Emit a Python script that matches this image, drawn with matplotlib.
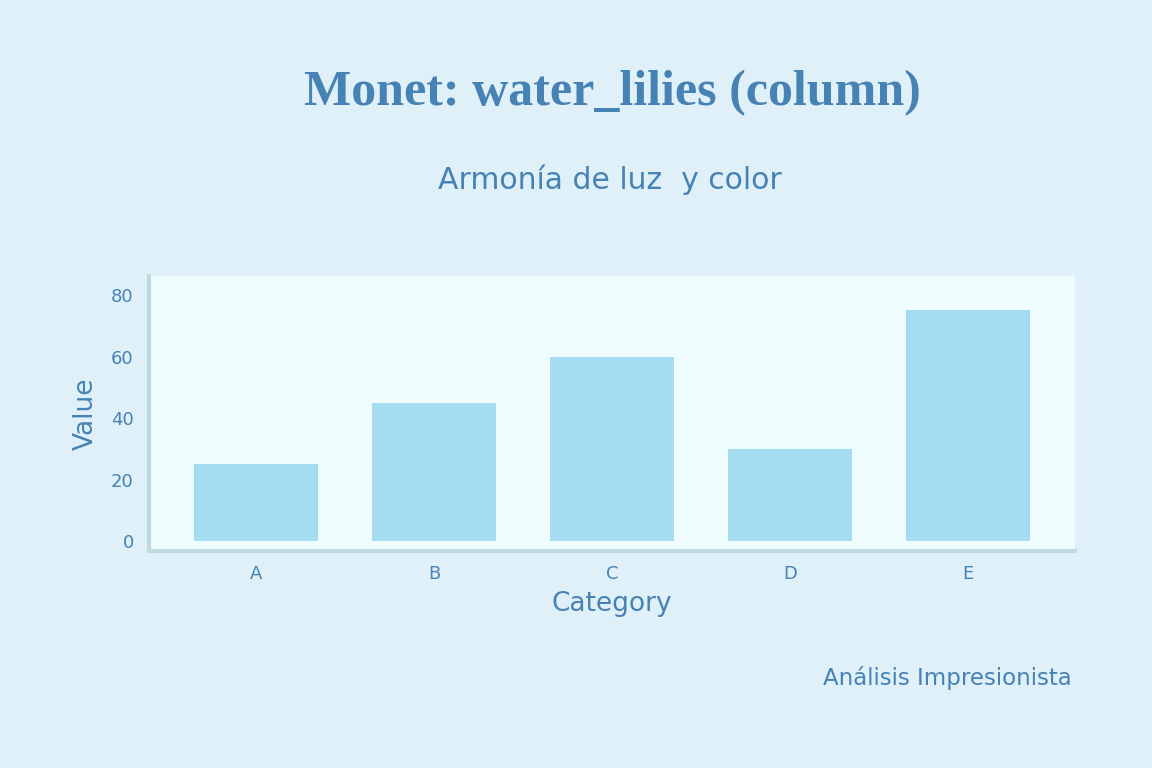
import matplotlib
matplotlib.use('Agg')
from matplotlib import pyplot as plt

# chart data
categories = ['A', 'B', 'C', 'D', 'E']
values = [25, 45, 60, 30, 75]

text_color = '#4682b4'
bar_color = '#a6dcf0'
spine_color = '#c0d8e0'

plt.rcParams['font.family'] = ['DejaVu Sans']

fig = plt.figure(figsize=(11.52, 7.68), dpi=100, facecolor='#e0f0f8')
ax = fig.add_axes([149 / 1152, 1 - 551 / 768, (1075 - 149) / 1152, (551 - 276) / 768])
ax.set_facecolor('#f0fdff')

x = range(len(categories))
ax.bar(x, values, width=0.7, color=bar_color)

ax.set_xlim(-0.6, 4.6)
ax.set_ylim(-3.25, 86.2)
ax.set_xticks(list(x))
ax.set_xticklabels(categories)
ax.set_yticks([0, 20, 40, 60, 80])
ax.tick_params(length=0, labelsize=13, labelcolor=text_color)
ax.tick_params(axis='x', pad=10)
ax.tick_params(axis='y', pad=11)

for side in ['top', 'right']:
    ax.spines[side].set_visible(False)
for side in ['left', 'bottom']:
    ax.spines[side].set_color(spine_color)
    ax.spines[side].set_linewidth(3)

ax.set_xlabel('Category', fontsize=19, color=text_color, labelpad=6)
ax.set_ylabel('Value', fontsize=19, color=text_color, labelpad=9)

fig.text(612 / 1152, 1 - 93 / 768, 'Monet: water_lilies (column)', ha='center', va='center',
         fontsize=36, fontweight='bold', color=text_color,
         family=['Liberation Serif', 'DejaVu Serif'])
fig.text(610 / 1152, 1 - 180 / 768, 'Armonía de luz  y color', ha='center', va='center',
         fontsize=21.5, color=text_color)
fig.text(1072 / 1152, 1 - 678 / 768, 'Análisis Impresionista', ha='right', va='center',
         fontsize=16.5, color=text_color)

fig.savefig('out.png', dpi=100, facecolor=fig.get_facecolor())
